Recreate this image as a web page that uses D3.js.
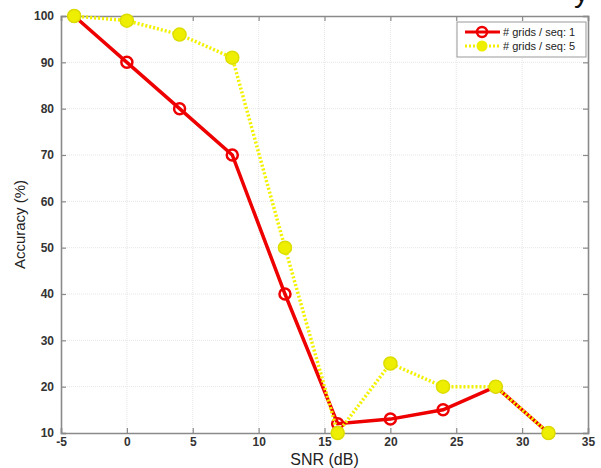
<!DOCTYPE html>
<html><head><meta charset="utf-8">
<script src="https://cdn.jsdelivr.net/npm/d3@7"></script>
<style>body{margin:0;background:#fff;} svg{display:block;font-family:"Liberation Sans",Arial,sans-serif;}</style>
</head><body><div id="chart"></div>
<script>
const snr = [-4, 0, 4, 8, 12, 16, 20, 24, 28, 32];
const acc1 = [100, 90, 80, 70, 40, 12, 13, 15, 20, 10];
const acc5 = [100, 99, 96, 91, 50, 10, 25, 20, 20, 10];
const xTicks = [-5, 0, 5, 10, 15, 20, 25, 30, 35];
const yTicks = [10, 20, 30, 40, 50, 60, 70, 80, 90, 100];
const seriesNames = ["# grids / seq: 1", "# grids / seq: 5"];

const W = 601, H = 468;
const m = {l: 61, r: 13, t: 16, b: 35};
const svg = d3.select("#chart").append("svg").attr("width", W).attr("height", H);
const x = d3.scaleLinear().domain([-5, 35]).range([m.l, W - m.r]);
const y = d3.scaleLinear().domain([10, 100]).range([H - m.b, m.t]);

// cut-off title glyph (partially visible at the top edge, as in the reference)
svg.append("text").attr("x", 574).attr("y", 2).attr("font-size", 30).attr("fill", "#111").text("y");

// grid
const g = svg.append("g");
g.selectAll(".vg").data(xTicks.slice(1, -1)).enter().append("line")
  .attr("x1", d => x(d)).attr("x2", d => x(d)).attr("y1", m.t).attr("y2", H - m.b)
  .attr("stroke", "#e6e6e6").attr("stroke-width", 1).attr("stroke-dasharray", "1,1");
g.selectAll(".hg").data(yTicks.slice(1, -1)).enter().append("line")
  .attr("y1", d => y(d)).attr("y2", d => y(d)).attr("x1", m.l).attr("x2", W - m.r)
  .attr("stroke", "#e6e6e6").attr("stroke-width", 1).attr("stroke-dasharray", "1,1");

// axes
const axColor = "#8a8a8a";
const fmt = d => String(d);
const xb = svg.append("g").attr("transform", `translate(0,${H - m.b})`)
  .call(d3.axisBottom(x).tickValues(xTicks).tickSize(-5).tickPadding(6).tickFormat(fmt));
const xt = svg.append("g").attr("transform", `translate(0,${m.t})`)
  .call(d3.axisTop(x).tickValues(xTicks).tickSize(-5).tickFormat(""));
const yl = svg.append("g").attr("transform", `translate(${m.l},0)`)
  .call(d3.axisLeft(y).tickValues(yTicks).tickSize(-5).tickPadding(7).tickFormat(fmt));
const yr = svg.append("g").attr("transform", `translate(${W - m.r},0)`)
  .call(d3.axisRight(y).tickValues(yTicks).tickSize(-5).tickFormat(""));
[xb, xt, yl, yr].forEach(a => {
  a.select(".domain").attr("stroke", axColor).attr("stroke-width", 1.6);
  a.selectAll(".tick line").attr("stroke", axColor).attr("stroke-width", 1.2);
  a.selectAll(".tick text").attr("fill", "#333").attr("font-size", 12).attr("font-weight", "bold");
});
xb.selectAll(".tick text").attr("dy", "0.6em");

// labels
svg.append("text").attr("x", x(15)).attr("y", 465).attr("text-anchor", "middle")
  .attr("font-size", 16).attr("fill", "#222").text("SNR (dB)");
svg.append("text").attr("transform", `translate(25,${y(55)}) rotate(-90)`).attr("text-anchor", "middle")
  .attr("font-size", 15).attr("fill", "#222").text("Accuracy (%)");

const line = d3.line().x((d, i) => x(snr[i])).y(d => y(d));
// red series
svg.append("path").datum(acc1).attr("d", line).attr("fill", "none").attr("stroke", "#ee0000").attr("stroke-width", 3.5);
svg.selectAll(".m1").data(acc1).enter().append("circle")
  .attr("cx", (d, i) => x(snr[i])).attr("cy", d => y(d)).attr("r", 5.5)
  .attr("fill", "none").attr("stroke", "#ee0000").attr("stroke-width", 2.5);
// yellow series
svg.append("path").datum(acc5).attr("d", line).attr("fill", "none").attr("stroke", "#f2f200")
  .attr("stroke-width", 3.5).attr("stroke-dasharray", "2,2");
svg.selectAll(".m5").data(acc5).enter().append("circle")
  .attr("cx", (d, i) => x(snr[i])).attr("cy", d => y(d)).attr("r", 6.5)
  .attr("fill", "#eeee00").attr("stroke", "#dddd00").attr("stroke-width", 1.5);

// legend
const lg = svg.append("g").attr("transform", "translate(457,22)");
lg.append("rect").attr("width", 129).attr("height", 35).attr("fill", "#fff").attr("stroke", "#999").attr("stroke-width", 1);
const colors = ["#ee0000", "#f2f200"];
seriesNames.forEach((name, i) => {
  const yy = 10 + i * 14;
  lg.append("line").attr("x1", 8).attr("x2", 43).attr("y1", yy).attr("y2", yy)
    .attr("stroke", colors[i]).attr("stroke-width", 3).attr("stroke-dasharray", i ? "2,2" : null);
  if (i === 0) lg.append("circle").attr("cx", 25).attr("cy", yy).attr("r", 5).attr("fill", "none").attr("stroke", colors[i]).attr("stroke-width", 2.5);
  else lg.append("circle").attr("cx", 25).attr("cy", yy).attr("r", 5.5).attr("fill", "#eeee00");
  lg.append("text").attr("x", 46).attr("y", yy + 4).attr("font-size", 11).attr("fill", "#222").text(name);
});
</script></body></html>
